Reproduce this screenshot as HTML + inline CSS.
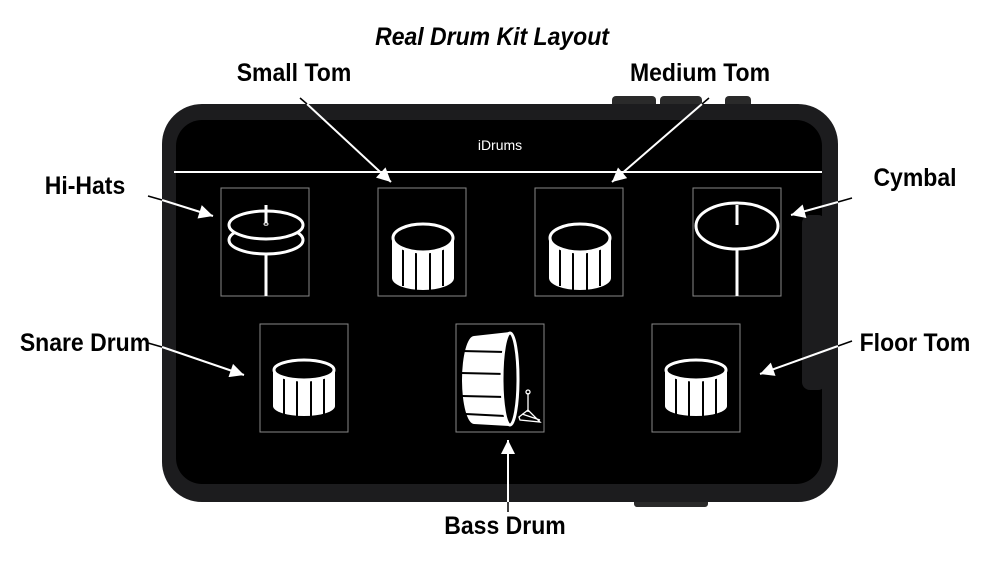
<!DOCTYPE html>
<html><head><meta charset="utf-8"><style>
html,body{margin:0;padding:0;background:#fff;width:1000px;height:563px;overflow:hidden}
svg{display:block}
.lb{font-family:"Liberation Sans",sans-serif;font-weight:bold;font-size:25px;fill:#000}
</style></head><body>
<svg width="1000" height="563" viewBox="0 0 1000 563">
<defs>
<marker id="ah" viewBox="0 0 10 10" refX="10" refY="5" markerWidth="16" markerHeight="14" orient="auto-start-reverse" markerUnits="userSpaceOnUse">
<path d="M0,0 L10,5 L0,10 z" fill="#fff"/></marker>
</defs>
<rect x="612" y="96" width="44" height="12" rx="4" fill="#2a2a2a"/>
<rect x="660" y="96" width="42" height="12" rx="4" fill="#2a2a2a"/>
<rect x="725" y="96" width="26" height="12" rx="4" fill="#2a2a2a"/>
<rect x="634" y="495" width="74" height="12" rx="3" fill="#2a2a2a"/>
<rect x="162" y="104" width="676" height="398" rx="40" fill="#1c1c1e"/>
<rect x="176" y="120" width="646" height="364" rx="26" fill="#000"/>
<rect x="802" y="215" width="24" height="175" rx="8" fill="#1c1c1e"/>
<text x="500" y="150" text-anchor="middle" font-family="Liberation Sans,sans-serif" font-size="14" fill="#fff">iDrums</text>
<line x1="174" y1="172" x2="822" y2="172" stroke="#fff" stroke-width="2"/>
<g fill="none" stroke="#888" stroke-width="1">
<rect x="221" y="188" width="88" height="108"/>
<rect x="378" y="188" width="88" height="108"/>
<rect x="535" y="188" width="88" height="108"/>
<rect x="693" y="188" width="88" height="108"/>
<rect x="260" y="324" width="88" height="108"/>
<rect x="456" y="324" width="88" height="108"/>
<rect x="652" y="324" width="88" height="108"/>
</g>
<g stroke="#fff" stroke-width="3" fill="none">
<line x1="266" y1="252" x2="266" y2="296"/>
<ellipse cx="266" cy="240" rx="37" ry="14" fill="#000"/>
<ellipse cx="266" cy="225" rx="37" ry="14" fill="#000"/>
<line x1="266" y1="205" x2="266" y2="223"/>
<ellipse cx="266" cy="224" rx="2" ry="1.3" stroke-width="1"/>
</g>
<g stroke="#fff" stroke-width="3" fill="none">
<line x1="737" y1="248" x2="737" y2="296"/>
<ellipse cx="737" cy="226" rx="41" ry="23"/>
<line x1="737" y1="205" x2="737" y2="225"/>
</g>
<g id="tom">
<path d="M392,238 L392,278 A31,12 0 0 0 454,278 L454,238 Z" fill="#fff"/>
<g stroke="#000" stroke-width="2"><line x1="403" y1="248" x2="403" y2="286"/><line x1="416" y1="250" x2="416" y2="290"/><line x1="430" y1="250" x2="430" y2="290"/><line x1="443" y1="248" x2="443" y2="286"/></g>
<ellipse cx="423" cy="238" rx="30" ry="14" fill="#000" stroke="#fff" stroke-width="3"/>
</g>
<use href="#tom" x="157" y="0"/>
<g id="snare">
<path d="M273,370 L273,406 A31,10 0 0 0 335,406 L335,370 Z" fill="#fff"/>
<g stroke="#000" stroke-width="2"><line x1="284" y1="378" x2="284" y2="414"/><line x1="297" y1="380" x2="297" y2="417"/><line x1="311" y1="380" x2="311" y2="417"/><line x1="324" y1="378" x2="324" y2="414"/></g>
<ellipse cx="304" cy="370" rx="30" ry="10" fill="#000" stroke="#fff" stroke-width="3"/>
</g>
<use href="#snare" x="392" y="0"/>
<path d="M510,332 L474,336 A12,44 0 0 0 474,424 L510,426 Z" fill="#fff"/>
<g stroke="#000" stroke-width="2"><line x1="462" y1="351" x2="505" y2="352"/><line x1="461" y1="373" x2="505" y2="374"/><line x1="462" y1="396" x2="505" y2="397"/><line x1="466" y1="414" x2="505" y2="416"/></g>
<ellipse cx="510" cy="379" rx="8" ry="46" fill="#000" stroke="#fff" stroke-width="3"/>
<g stroke="#fff" stroke-width="1.3" fill="none">
<line x1="528" y1="393" x2="528" y2="412"/><circle cx="528" cy="392" r="2"/>
<path d="M519,417 L528,410 L540,422 L520,420 Z M522,414 L540,420"/>
</g>
<g stroke="#fff" stroke-width="2" marker-end="url(#ah)">
<line x1="307" y1="104" x2="391" y2="182"/>
<line x1="702" y1="104" x2="612" y2="182"/>
<line x1="162" y1="200" x2="213" y2="216"/>
<line x1="838" y1="202" x2="791" y2="215"/>
<line x1="162" y1="347" x2="244" y2="375"/>
<line x1="838" y1="346" x2="760" y2="374"/>
<line x1="508" y1="502" x2="508" y2="440"/>
</g>
<g stroke="#000" stroke-width="1.5">
<line x1="300" y1="98" x2="307" y2="104"/><line x1="709" y1="98" x2="702" y2="104"/>
<line x1="148" y1="196" x2="162" y2="200"/><line x1="852" y1="198" x2="838" y2="202"/>
<line x1="148" y1="343" x2="162" y2="347"/><line x1="852" y1="341" x2="838" y2="346"/>
<line x1="508" y1="502" x2="508" y2="512"/>
</g>
<text x="492" y="45" text-anchor="middle" class="lb" font-style="italic" font-size="23" transform="translate(492 0) scale(0.92 1) translate(-492 0)">Real Drum Kit Layout</text>
<text x="294" y="81" text-anchor="middle" class="lb" transform="translate(294 0) scale(0.92 1) translate(-294 0)">Small Tom</text>
<text x="700" y="81" text-anchor="middle" class="lb" transform="translate(700 0) scale(0.92 1) translate(-700 0)">Medium Tom</text>
<text x="85" y="194" text-anchor="middle" class="lb" transform="translate(85 0) scale(0.92 1) translate(-85 0)">Hi-Hats</text>
<text x="915" y="186" text-anchor="middle" class="lb" transform="translate(915 0) scale(0.92 1) translate(-915 0)">Cymbal</text>
<text x="85" y="351" text-anchor="middle" class="lb" transform="translate(85 0) scale(0.92 1) translate(-85 0)">Snare Drum</text>
<text x="915" y="351" text-anchor="middle" class="lb" transform="translate(915 0) scale(0.92 1) translate(-915 0)">Floor Tom</text>
<text x="505" y="534" text-anchor="middle" class="lb" transform="translate(505 0) scale(0.92 1) translate(-505 0)">Bass Drum</text>
</svg>
</body></html>
